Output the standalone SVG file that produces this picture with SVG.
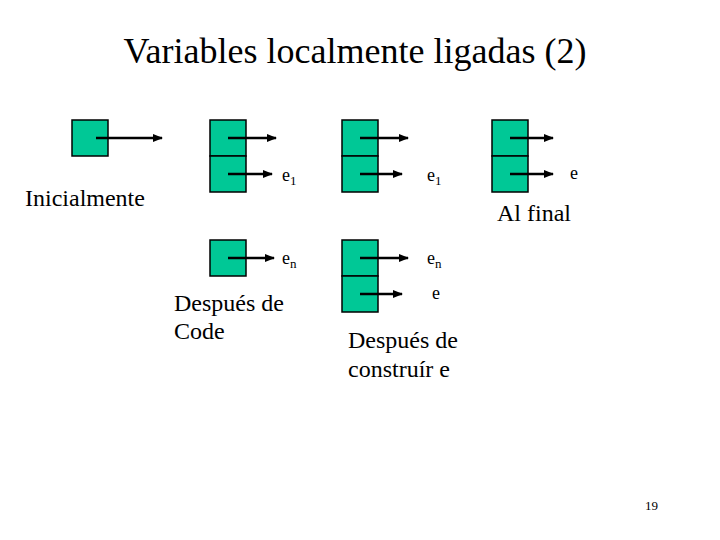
<svg xmlns="http://www.w3.org/2000/svg" width="720" height="540" viewBox="0 0 720 540">
<style>
.cell{fill:#00c896;stroke:#000;stroke-width:1.5}
.ar{stroke:#000;stroke-width:2.5;fill:none;marker-end:url(#ah)}
.serif{font-family:"Liberation Serif","Times New Roman",serif;fill:#000}
.lb{font-size:24px}
.sm{font-size:18px}
.sub{font-size:13px}
</style>
<defs>
<marker id="ah" viewBox="0 0 10 10" refX="9" refY="5" markerWidth="4" markerHeight="4" orient="auto" markerUnits="strokeWidth">
<path d="M0,1 L10,5 L0,9 z" fill="#000"/>
</marker>
</defs>
<rect width="720" height="540" fill="#fff"/>
<text class="serif" x="355" y="63" font-size="36" text-anchor="middle">Variables localmente ligadas (2)</text>
<g id="n1"><rect class="cell" x="72" y="120" width="36" height="36"/></g>
<g id="n2"><rect class="cell" x="210" y="120" width="36" height="36"/><rect class="cell" x="210" y="156" width="36" height="36"/></g>
<g id="n3"><rect class="cell" x="342" y="120" width="36" height="36"/><rect class="cell" x="342" y="156" width="36" height="36"/></g>
<g id="n4"><rect class="cell" x="492" y="120" width="36" height="36"/><rect class="cell" x="492" y="156" width="36" height="36"/></g>
<g id="n5"><rect class="cell" x="210" y="240" width="36" height="36"/></g>
<g id="n6"><rect class="cell" x="342" y="240" width="36" height="36"/><rect class="cell" x="342" y="276" width="36" height="36"/></g>
<g id="connectors">
<line class="ar" x1="96" y1="138" x2="162" y2="138"/>
<line class="ar" x1="228" y1="138" x2="276" y2="138"/>
<line class="ar" x1="228" y1="174" x2="272" y2="174"/>
<line class="ar" x1="360" y1="138" x2="408" y2="138"/>
<line class="ar" x1="360" y1="174" x2="402" y2="174"/>
<line class="ar" x1="510" y1="138" x2="553" y2="138"/>
<line class="ar" x1="510" y1="174" x2="553" y2="174"/>
<line class="ar" x1="228" y1="258" x2="274" y2="258"/>
<line class="ar" x1="360" y1="258" x2="408" y2="258"/>
<line class="ar" x1="360" y1="294" x2="402" y2="294"/>
</g>
<text class="serif sm" x="282" y="181">e<tspan class="sub" dy="4">1</tspan></text>
<text class="serif sm" x="427" y="181">e<tspan class="sub" dy="4">1</tspan></text>
<text class="serif sm" x="570" y="179">e</text>
<text class="serif sm" x="282" y="264">e<tspan class="sub" dy="4">n</tspan></text>
<text class="serif sm" x="427" y="264">e<tspan class="sub" dy="4">n</tspan></text>
<text class="serif sm" x="432" y="299">e</text>
<text class="serif lb" x="25" y="206">Inicialmente</text>
<text class="serif lb" x="497" y="221">Al final</text>
<text class="serif lb" x="174" y="311">Después de</text>
<text class="serif lb" x="174" y="339">Code</text>
<text class="serif lb" x="348" y="348">Después de</text>
<text class="serif lb" x="348" y="377">construír e</text>
<text class="serif" x="645" y="510" font-size="13">19</text>
</svg>
